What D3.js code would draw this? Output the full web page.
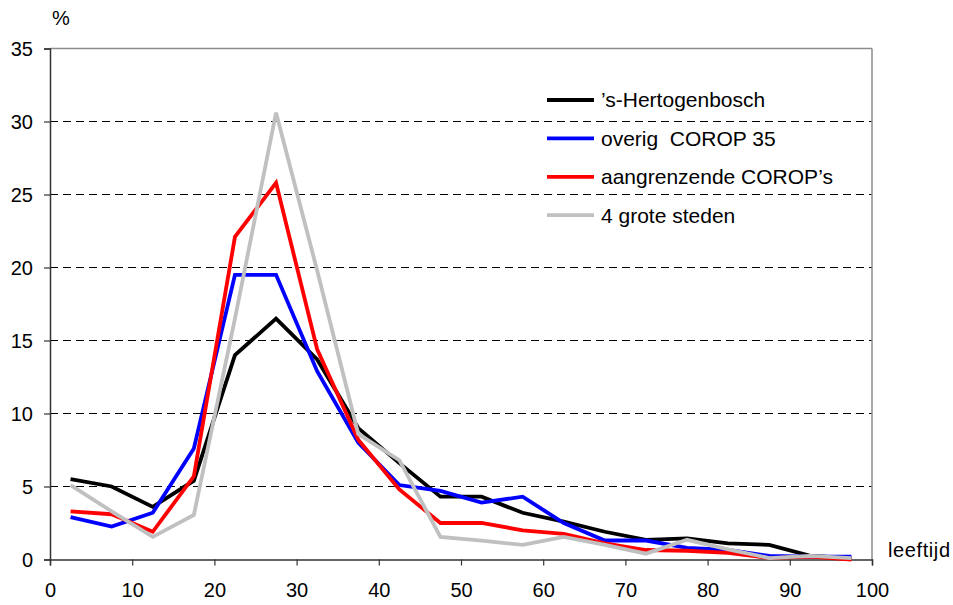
<!DOCTYPE html>
<html>
<head>
<meta charset="utf-8">
<script src="https://cdn.jsdelivr.net/npm/d3@7"></script>
<style>
  html, body { margin: 0; padding: 0; background: #fff; }
  svg { display: block; font-family: "Liberation Sans", Arial, sans-serif; }
</style>
</head>
<body>
<svg id="chart" width="953" height="605"></svg>
<script>
// Age classes (midpoints of 5-year bands)
const ages = [2.5, 7.5, 12.5, 17.5, 22.5, 27.5, 32.5, 37.5, 42.5, 47.5,
              52.5, 57.5, 62.5, 67.5, 72.5, 77.5, 82.5, 87.5, 92.5, 97.5];

// Share of movers per age class (%)
const hertogenbosch = [5.5, 5.0, 3.6, 5.4, 14.0, 16.5, 13.7, 9.0, 6.6, 4.3,
                       4.3, 3.2, 2.6, 1.9, 1.35, 1.45, 1.1, 1.0, 0.25, 0.1];
const overigCorop   = [2.9, 2.25, 3.2, 7.6, 19.5, 19.5, 12.9, 8.0, 5.1, 4.7,
                       3.9, 4.3, 2.5, 1.3, 1.3, 0.8, 0.65, 0.25, 0.2, 0.2];
const aangrenzend   = [3.3, 3.1, 1.9, 5.7, 22.1, 25.8, 14.4, 8.2, 4.8, 2.5,
                       2.5, 2.0, 1.75, 1.1, 0.65, 0.6, 0.45, 0.1, 0.2, 0.0];
const groteSteden   = [5.1, 3.3, 1.55, 3.05, 16.5, 30.6, 19.8, 8.6, 6.8, 1.55,
                       1.3, 1.0, 1.55, 1.0, 0.4, 1.35, 0.7, 0.1, 0.25, 0.1];

const seriesNames  = ["\u2019s-Hertogenbosch", "overig  COROP 35", "aangrenzende COROP\u2019s", "4 grote steden"];
const seriesValues = [hertogenbosch, overigCorop, aangrenzend, groteSteden];
const seriesColors = ["#000000", "#0000ff", "#ff0000", "#c0c0c0"];

const xTicks = [0, 10, 20, 30, 40, 50, 60, 70, 80, 90, 100];
const yTicks = [0, 5, 10, 15, 20, 25, 30, 35];

const svg = d3.select("#chart");
const plotLeft = 50, plotRight = 872, plotTop = 48.5, plotBottom = 559.5;
const fontSize = "20px";

const x = d3.scaleLinear().domain([0, 100]).range([plotLeft, plotRight]);
const y = d3.scaleLinear().domain([0, 35]).range([plotBottom, plotTop]);

// Dashed horizontal gridlines
svg.append("g")
  .selectAll("line")
  .data(yTicks.filter(d => d > 0 && d < 35))
  .join("line")
  .attr("x1", plotLeft).attr("x2", plotRight)
  .attr("y1", d => y(d)).attr("y2", d => y(d))
  .attr("stroke", "#000").attr("stroke-width", 1)
  .attr("stroke-dasharray", "8,5");

// Plot frame: grey top and right edges
svg.append("line")
  .attr("x1", plotLeft).attr("x2", plotRight).attr("y1", y(35)).attr("y2", y(35))
  .attr("stroke", "#8c8c8c").attr("stroke-width", 1.5);
svg.append("line")
  .attr("x1", plotRight).attr("x2", plotRight).attr("y1", y(35)).attr("y2", y(0))
  .attr("stroke", "#8c8c8c").attr("stroke-width", 1.5);

// Axes
const yAxis = svg.append("g")
  .attr("transform", `translate(${plotLeft},0)`)
  .call(d3.axisLeft(y).tickValues(yTicks).tickSize(6).tickPadding(11).tickFormat(d3.format("d")));
const xAxis = svg.append("g")
  .attr("transform", `translate(0,${plotBottom})`)
  .call(d3.axisBottom(x).tickValues(xTicks).tickSize(6).tickPadding(17).tickFormat(d3.format("d")));

[yAxis, xAxis].forEach(g => {
  g.select(".domain").attr("stroke", "#333").attr("stroke-width", 1.5);
  g.selectAll(".tick line").attr("stroke", "#333").attr("stroke-width", 1.2);
  g.selectAll(".tick text")
    .attr("fill", "#000")
    .style("font-size", fontSize)
    .style("font-family", "'Liberation Sans', Arial, sans-serif");
});
yAxis.selectAll(".tick text").attr("dy", "0.35em");

// Series lines
const line = d3.line()
  .x((d, i) => x(ages[i]))
  .y(d => y(d));

svg.append("g")
  .selectAll("path")
  .data(seriesValues)
  .join("path")
  .attr("d", d => line(d))
  .attr("fill", "none")
  .attr("stroke", (d, i) => seriesColors[i])
  .attr("stroke-width", 3.8)
  .attr("stroke-linejoin", "miter")
  .attr("stroke-miterlimit", 4);

// Axis titles
svg.append("text")
  .attr("x", 52).attr("y", 25)
  .style("font-size", fontSize).attr("fill", "#000")
  .text("%");
svg.append("text")
  .attr("x", 888).attr("y", 557)
  .style("font-size", fontSize).style("letter-spacing", "0.6px").attr("fill", "#000")
  .text("leeftijd");

// Legend
const legend = svg.append("g").attr("transform", "translate(547,100)");
const rows = legend.selectAll("g")
  .data(seriesNames)
  .join("g")
  .attr("transform", (d, i) => `translate(0,${i * 38.4})`);
rows.append("line")
  .attr("x1", 0).attr("x2", 47).attr("y1", 0).attr("y2", 0)
  .attr("stroke", (d, i) => seriesColors[i]).attr("stroke-width", 3.8);
rows.append("text")
  .attr("x", 54).attr("y", 0).attr("dy", "0.35em")
  .style("font-size", "21px").style("white-space", "pre").attr("fill", "#000")
  .text(d => d);
</script>
</body>
</html>
